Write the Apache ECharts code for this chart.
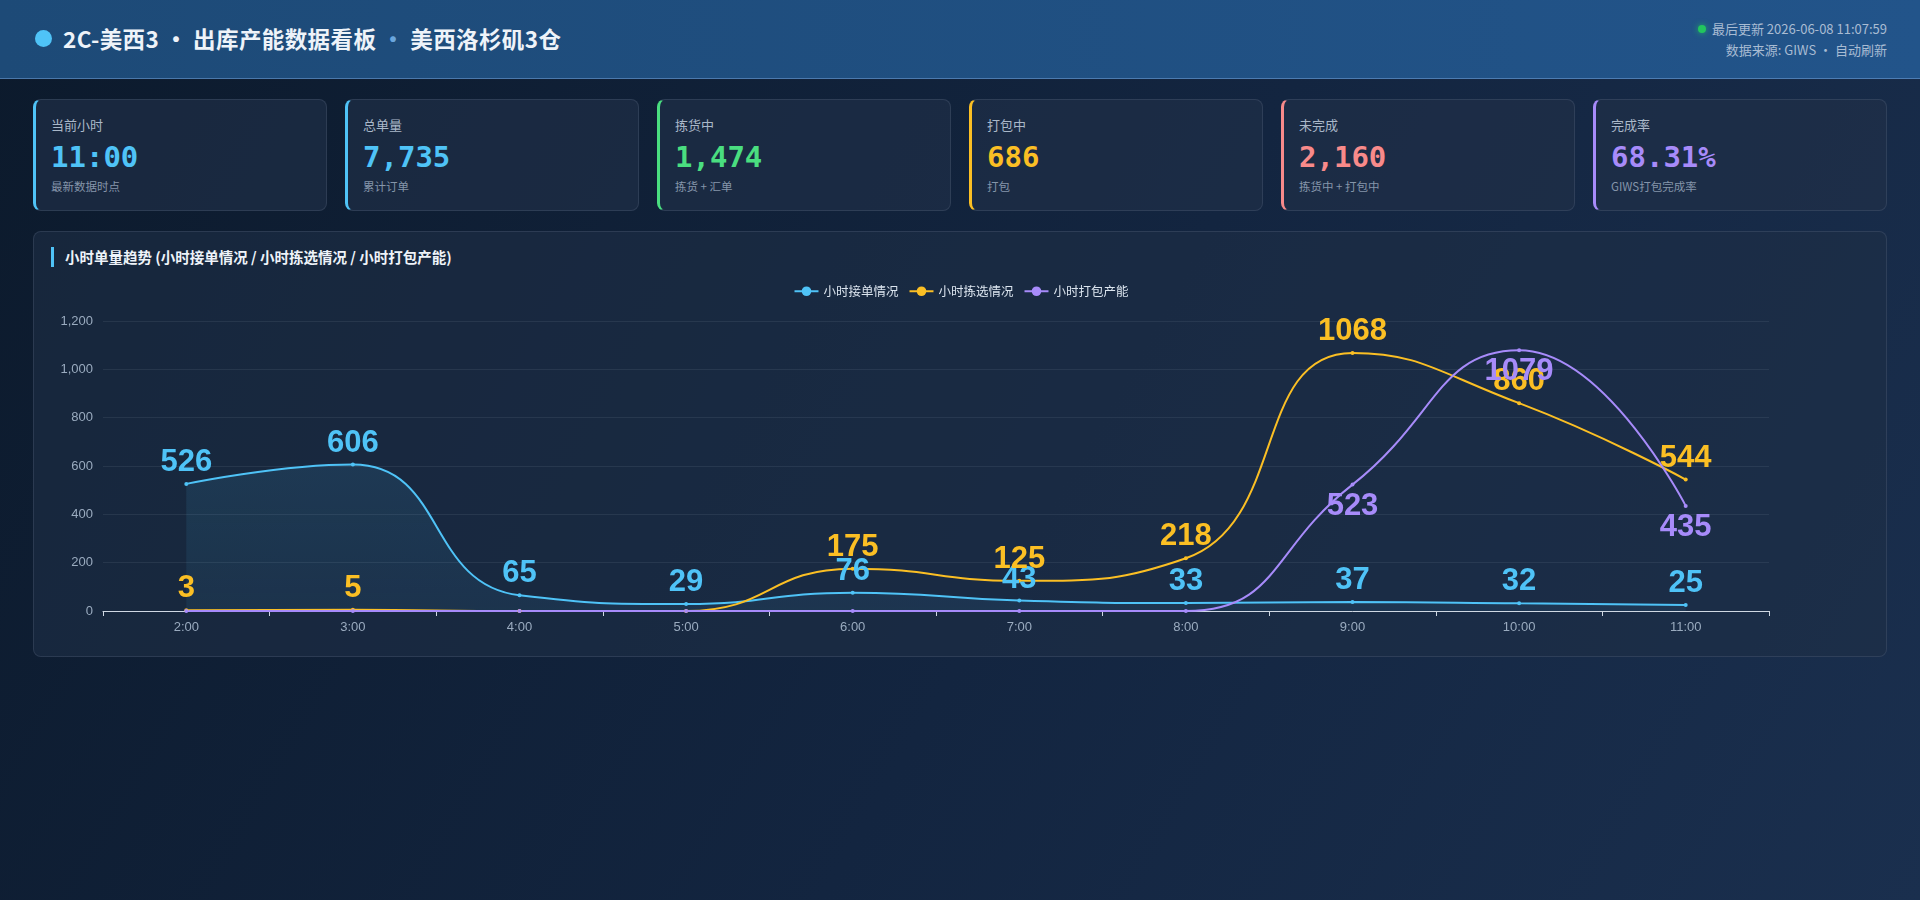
<!DOCTYPE html>
<html>
<head>
<meta charset="utf-8">
<script src="https://cdn.jsdelivr.net/npm/echarts@6/dist/echarts.min.js"></script>
<style>
  * { box-sizing: border-box; margin: 0; padding: 0; }
  html, body { width: 1920px; height: 900px; overflow: hidden; }
  body {
    font-family: "Noto Sans CJK SC", "Noto Sans", sans-serif;
    background: linear-gradient(120deg, #0c1a2c 0%, #132540 55%, #1a2f4e 100%);
    color: #e2e8f0;
    position: relative;
  }
  .header {
    position: absolute; left: 0; top: 0; width: 1920px; height: 79px;
    background: linear-gradient(90deg, #1d4a77 0%, #22548a 100%);
    border-bottom: 1px solid rgba(130, 175, 230, 0.45);
  }
  .header .dot {
    position: absolute; left: 35px; top: 30px; width: 17px; height: 17px;
    border-radius: 50%; background: #4fc3f7;
  }
  .header .title {
    position: absolute; left: 63px; top: 22px; font-size: 22.5px; font-weight: 700;
    line-height: 32px; color: #eef3f9; letter-spacing: 0.4px;
  }
  .header .title .sep2 { color: #6aa6dd; }
  .header .meta {
    position: absolute; right: 33px; top: 18px; text-align: right;
    font-size: 13px; line-height: 21px; color: #a9bcd3;
  }
  .header .meta .live {
    display: inline-block; width: 8px; height: 8px; border-radius: 50%;
    background: #22c55e; margin-right: 6px; vertical-align: 1px;
    box-shadow: 0 0 6px rgba(34, 197, 94, 0.8);
  }
  .cards { position: absolute; left: 33px; top: 99px; display: flex; gap: 18px; }
  .card {
    width: 294px; height: 112px; border-radius: 8px;
    background: rgba(32, 48, 72, 0.65);
    border: 1px solid rgba(148, 163, 184, 0.16);
    border-left: 3px solid #4fc3f7;
    padding: 16px 0 0 15px;
  }
  .card .lbl { font-size: 13px; line-height: 18px; color: #aab8c9; }
  .card .val {
    margin-top: 5px; font-family: "DejaVu Sans Mono", monospace; font-weight: 700;
    font-size: 29px; line-height: 36px;
  }
  .card .sub { margin-top: 3px; font-size: 11.5px; line-height: 16px; color: #8595aa; }
  .panel {
    position: absolute; left: 33px; top: 231px; width: 1854px; height: 426px;
    border-radius: 8px; background: rgba(30, 46, 70, 0.6);
    border: 1px solid rgba(148, 163, 184, 0.16);
  }
  .panel .ptitle {
    position: absolute; left: 17px; top: 15px; height: 20px;
    border-left: 3px solid #4fc3f7; padding-left: 11px;
    font-size: 14.5px; font-weight: 700; line-height: 20px; color: #eef3f9;
  }
  #chart { position: absolute; left: 0; top: 44px; width: 1854px; height: 372px; }
</style>
</head>
<body>
<div class="header">
  <div class="dot"></div>
  <div class="title">2C-美西3 · 出库产能数据看板 <span class="sep2">·</span> 美西洛杉矶3仓</div>
  <div class="meta">
    <div><span class="live"></span>最后更新 2026-06-08 11:07:59</div>
    <div>数据来源: GIWS · 自动刷新</div>
  </div>
</div>
<div class="cards" id="cards"></div>
<div class="panel">
  <div class="ptitle">小时单量趋势 (小时接单情况 / 小时拣选情况 / 小时打包产能)</div>
  <div id="chart"></div>
</div>
<script>
// KPI cards
const cardLabels = ['当前小时', '总单量', '拣货中', '打包中', '未完成', '完成率']
const cardValues = ['11:00', '7,735', '1,474', '686', '2,160', '68.31%']
const cardSubs = ['最新数据时点', '累计订单', '拣货 + 汇单', '打包', '拣货中 + 打包中', 'GIWS打包完成率']
const cardColors = ['#4fc3f7', '#4fc3f7', '#4ade80', '#fbbf24', '#f88a8a', '#a78bfa']

// hourly trend
const hours = ['2:00', '3:00', '4:00', '5:00', '6:00', '7:00', '8:00', '9:00', '10:00', '11:00']
const orderIn = [526, 606, 65, 29, 76, 43, 33, 37, 32, 25]
const picking = [3, 5, 0, 0, 175, 125, 218, 1068, 860, 544]
const packing = [0, 0, 0, 0, 0, 0, 0, 523, 1079, 435]
const seriesNames = ['小时接单情况', '小时拣选情况', '小时打包产能']
const lineColors = ['#4fc3f7', '#fbbf24', '#a78bfa']
const labelPos = ['top', 'top', 'bottom']
const yTicks = [0, 200, 400, 600, 800, 1000, 1200]

let html = ''
cardLabels.forEach((lbl, i) => {
    html += `<div class="card" style="border-left-color:${cardColors[i]}">
      <div class="lbl">${lbl}</div>
      <div class="val" style="color:${cardColors[i]}">${cardValues[i]}</div>
      <div class="sub">${cardSubs[i]}</div></div>`
})
document.getElementById('cards').innerHTML = html

const chartFont = '"Liberation Sans", "Noto Sans CJK SC", sans-serif'

function makeSeries(idx, data, withArea) {
    let color = lineColors[idx]
    let s = {
        name: seriesNames[idx],
        type: 'line',
        data: data,
        smooth: true,
        symbol: 'circle',
        symbolSize: 4,
        lineStyle: { width: 2, color: color },
        itemStyle: { color: color },
        label: {
            show: true,
            position: labelPos[idx],
            distance: 4,
            color: color,
            fontSize: 31,
            fontWeight: 'bold',
            fontFamily: chartFont,
            formatter: p => (p.value ? p.value : '')
        }
    }
    if (withArea) {
        s.areaStyle = {
            color: new echarts.graphic.LinearGradient(0, 0, 0, 1, [
                { offset: 0, color: 'rgba(79,195,247,0.16)' },
                { offset: 1, color: 'rgba(79,195,247,0.10)' }
            ])
        }
    }
    return s
}

const chart = echarts.init(document.getElementById('chart'))
chart.setOption({
    animation: false,
    textStyle: { fontFamily: chartFont },
    legend: {
        top: 4,
        left: 'center',
        itemWidth: 24,
        itemHeight: 12,
        itemGap: 10,
        textStyle: { color: '#dbe4ee', fontSize: 12.5, fontFamily: '"Noto Sans CJK SC", sans-serif' },
        data: seriesNames
    },
    grid: { left: 69, right: 119, top: 45, bottom: 37 },
    xAxis: {
        type: 'category',
        data: hours,
        boundaryGap: true,
        axisLine: { lineStyle: { color: '#cfd8e3' } },
        axisTick: { show: true, length: 5, lineStyle: { color: '#cfd8e3' } },
        axisLabel: { color: '#9aabbf', fontSize: 13, margin: 10 }
    },
    yAxis: {
        type: 'value',
        min: yTicks[0],
        max: yTicks[yTicks.length - 1],
        interval: yTicks[1] - yTicks[0],
        axisLine: { show: false },
        axisTick: { show: false },
        axisLabel: { color: '#9aabbf', fontSize: 13, margin: 10 },
        splitLine: { lineStyle: { color: 'rgba(148,163,184,0.12)' } }
    },
    series: [
        makeSeries(0, orderIn, true),
        makeSeries(1, picking, false),
        makeSeries(2, packing, false)
    ]
})
</script>
</body>
</html>
